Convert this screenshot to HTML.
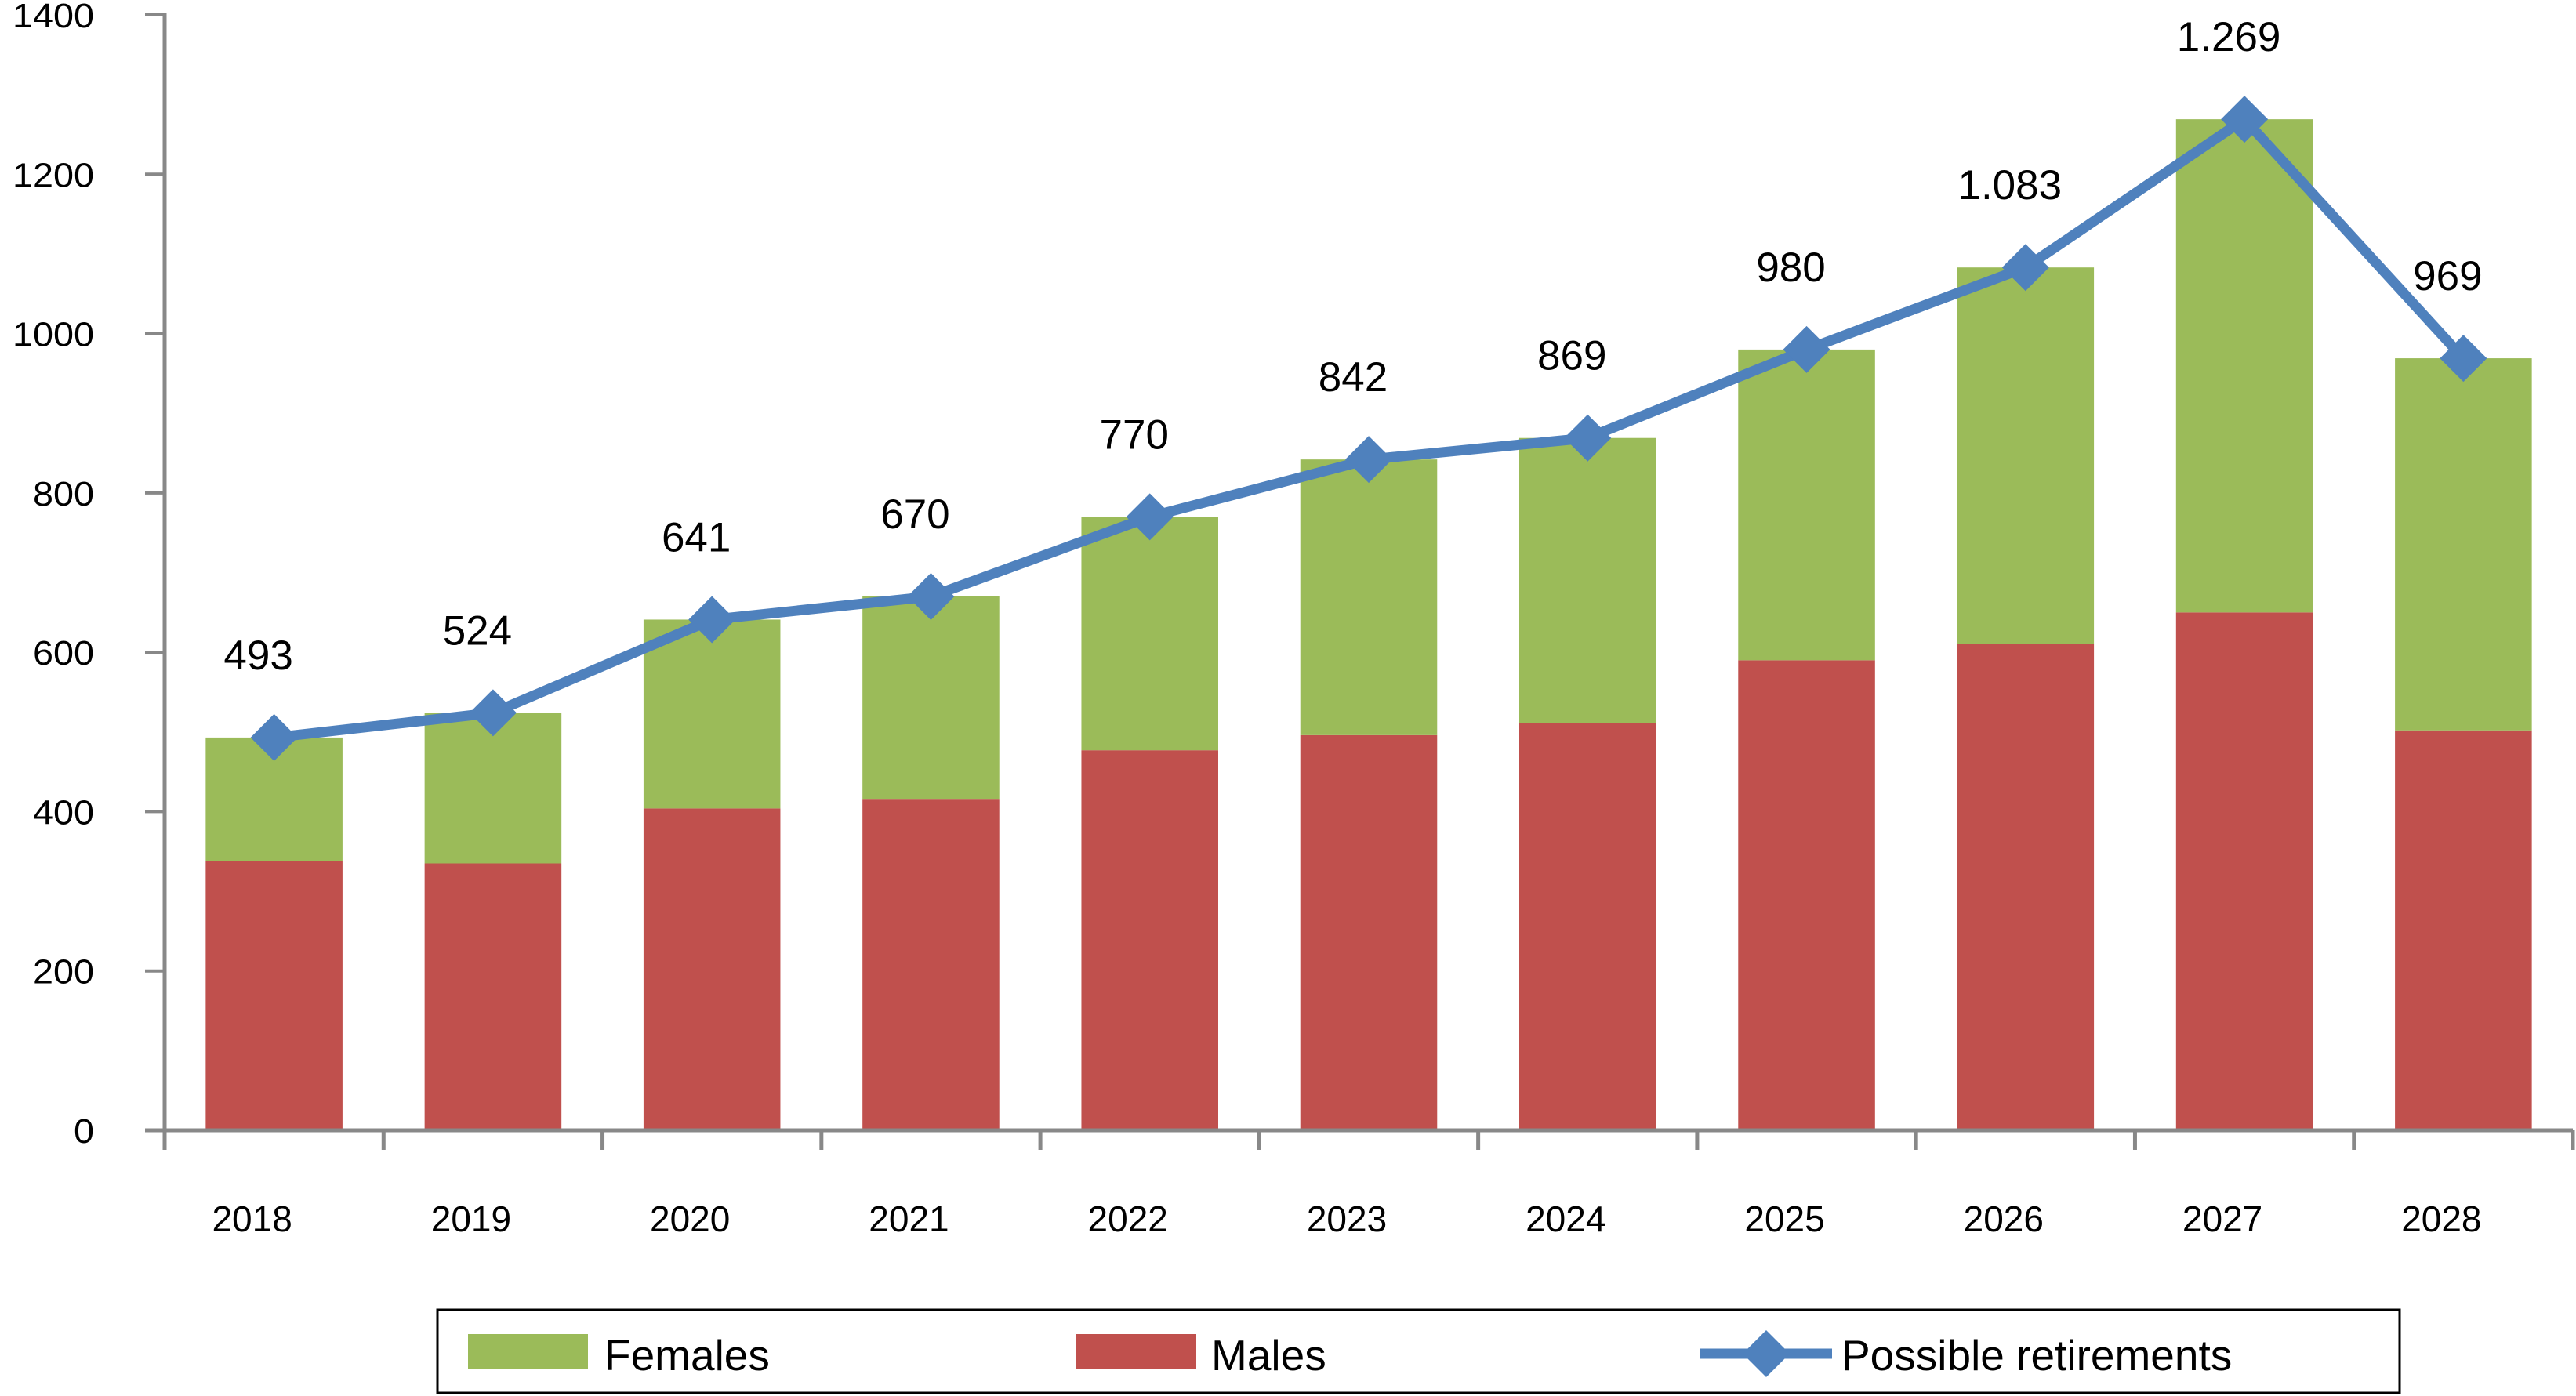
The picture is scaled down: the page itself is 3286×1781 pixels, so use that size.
<!DOCTYPE html>
<html><head><meta charset="utf-8"><style>
html,body{margin:0;padding:0;background:#fff;}
svg{display:block;font-family:"Liberation Sans",Arial,sans-serif;}
</style></head><body>
<svg id="chart" width="3286" height="1781" viewBox="0 0 3286 1781" xmlns="http://www.w3.org/2000/svg">
<g id="bars"></g>
<g id="axes"></g>
<g id="line"></g>
<g id="labels"></g>
<g>
  <rect x="558" y="1671" width="2503" height="106" fill="#fff" stroke="#000" stroke-width="3"/>
  <rect x="597" y="1702" width="153" height="44" fill="#9bbb59"/>
  <text x="771" y="1748" font-size="55" fill="#000">Females</text>
  <rect x="1373" y="1702" width="153" height="44" fill="#c0504d"/>
  <text x="1545" y="1748" font-size="55" fill="#000">Males</text>
  <line x1="2169" y1="1727" x2="2337" y2="1727" stroke="#4f81bd" stroke-width="13"/>
  <polygon points="2253,1697 2283,1727 2253,1757 2223,1727" fill="#4f81bd"/>
  <text x="2349" y="1748" font-size="55" fill="#000">Possible retirements</text>
</g>
</svg>
<script>
const categories = ["2018","2019","2020","2021","2022","2023","2024","2025","2026","2027","2028"];
const males = [338,335,404,416,477,496,511,590,610,650,502];
const totals = [493,524,641,670,770,842,869,980,1083,1269,969];
const valueLabels = ["493","524","641","670","770","842","869","980","1.083","1.269","969"];
const yTicks = [0,200,400,600,800,1000,1200,1400];

const NS = "http://www.w3.org/2000/svg";
const X0 = 210, X1 = 3282, Y0 = 1442, YTOP = 19, YMAX = 1400;
const catW = (X1 - X0) / categories.length;
const barW = catW * 0.625;
function xc(i){ return X0 + catW * (i + 0.5); }
function y(v){ return Y0 - (Y0 - YTOP) * v / YMAX; }
function mk(tag, attrs, parent){ const e = document.createElementNS(NS, tag); for (const k in attrs) e.setAttribute(k, attrs[k]); parent.appendChild(e); return e; }

const gb = document.getElementById('bars');
categories.forEach((c, i) => {
  const rm = mk('rect', {x: xc(i) - barW/2, y: y(males[i]), width: barW, height: Y0 - y(males[i]), fill: '#c0504d'}, gb);
  
  
  const rf = mk('rect', {x: xc(i) - barW/2, y: y(totals[i]), width: barW, height: y(males[i]) - y(totals[i]), fill: '#9bbb59'}, gb);
  
  
});

const ga = document.getElementById('axes');
const ya = mk('line', {x1: X0, y1: YTOP - 2, x2: X0, y2: Y0 + 2, stroke: '#888', 'stroke-width': 5}, ga);


const xa = mk('line', {x1: X0 - 25, y1: Y0, x2: X1, y2: Y0, stroke: '#888', 'stroke-width': 5}, ga);


yTicks.forEach(t => {
  const l = mk('line', {x1: X0 - 25, y1: y(t), x2: X0, y2: y(t), stroke: '#888', 'stroke-width': 4}, ga);
  
  
  const s = String(t);
  const tx = mk('text', {x: 120, y: y(t) + 16, 'font-size': 44, 'text-anchor': 'end', fill: '#000', textLength: s.length * 26, lengthAdjust: 'spacingAndGlyphs'}, ga);
  tx.textContent = s;
  
  
});
for (let i = 0; i <= categories.length; i++) {
  const l = mk('line', {x1: X0 + catW * i, y1: Y0, x2: X0 + catW * i, y2: Y0 + 25, stroke: '#888', 'stroke-width': 5}, ga);
  
  
}
categories.forEach((c, i) => {
  const tx = mk('text', {x: xc(i) - 28, y: 1571, 'font-size': 46, 'text-anchor': 'middle', fill: '#000'}, ga);
  tx.textContent = c;
  
  
});

const gl = document.getElementById('line');
const pts = totals.map((v, i) => xc(i) + ',' + y(v)).join(' ');
const pl = mk('polyline', {points: pts, fill: 'none', stroke: '#4f81bd', 'stroke-width': 13, 'stroke-linejoin': 'round'}, gl);


totals.forEach((v, i) => {
  const cx = xc(i), cy = y(v), s = 30;
  const d = mk('polygon', {points: `${cx},${cy-s} ${cx+s},${cy} ${cx},${cy+s} ${cx-s},${cy}`, fill: '#4f81bd'}, gl);
  
  
});

const gt = document.getElementById('labels');
totals.forEach((v, i) => {
  const tx = mk('text', {x: xc(i) - 20, y: y(v) - 87, 'font-size': 53, 'text-anchor': 'middle', fill: '#000'}, gt);
  tx.textContent = valueLabels[i];
  
  
});
</script>
</body></html>
